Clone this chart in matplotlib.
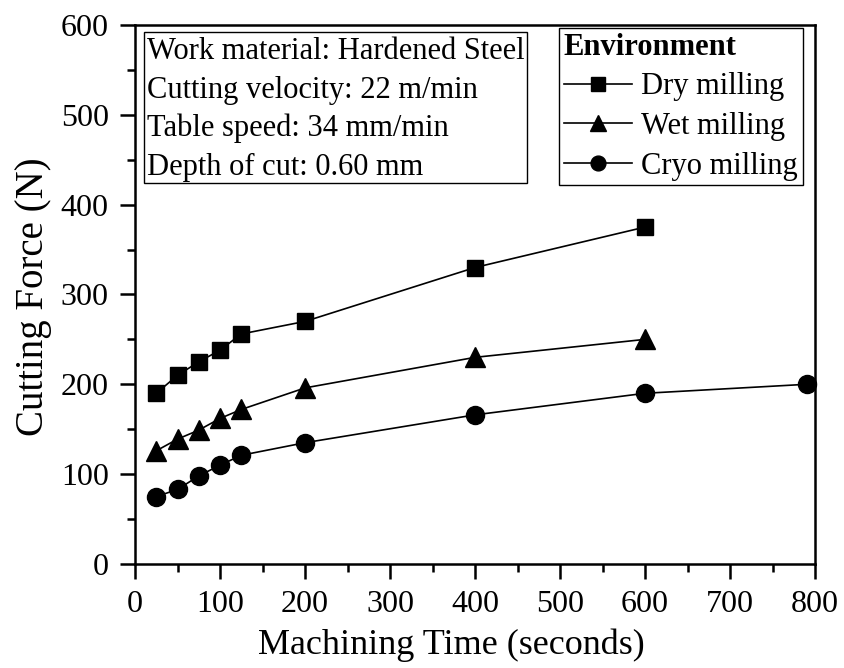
import matplotlib
matplotlib.use("Agg")
import matplotlib.pyplot as plt
from matplotlib.patches import Rectangle
import numpy as np

# machining time (s) and cutting force (N) for each cooling environment
time_dry = [25, 50, 75, 100, 125, 200, 400, 600]
force_dry = [190, 210, 225, 238, 256, 270, 330, 375]

time_wet = [25, 50, 75, 100, 125, 200, 400, 600]
force_wet = [126, 139, 149, 162, 172, 196, 230, 250]

time_cryo = [25, 50, 75, 100, 125, 200, 400, 600, 790]
force_cryo = [75, 83, 98, 110, 121, 135, 166, 190, 200]

labels = ["Dry milling", "Wet milling", "Cryo milling"]
markers = ["s", "^", "o"]
marker_sizes = [12, 14, 13]

info_lines = [
    "Work material: Hardened Steel",
    "Cutting velocity: 22 m/min",
    "Table speed: 34 mm/min",
    "Depth of cut: 0.60 mm",
]

plt.rcParams["font.family"] = ["Liberation Serif", "DejaVu Serif"]

fig = plt.figure(figsize=(8.44, 6.68), dpi=100)
ax = fig.add_axes([0.160, 0.1557, 0.8057, 0.807])

series = [(time_dry, force_dry), (time_wet, force_wet), (time_cryo, force_cryo)]
for (t, f), lab, mk, ms in zip(series, labels, markers, marker_sizes):
    ax.plot(t, f, color="black", lw=1.2, marker=mk, ms=ms,
            mfc="black", mec="black", label=lab, clip_on=False, zorder=3)

ax.set_xlim(0, 800)
ax.set_ylim(0, 600)
ax.set_xticks(np.arange(0, 801, 100))
ax.set_yticks(np.arange(0, 601, 100))
ax.set_xticks(np.arange(50, 800, 100), minor=True)
ax.set_yticks(np.arange(50, 600, 100), minor=True)

for s in ax.spines.values():
    s.set_linewidth(1.8)
ax.tick_params(which="major", direction="out", length=11, width=1.8,
               labelsize=23, top=False, right=False, pad=8)
ax.tick_params(which="minor", direction="out", length=5.5, width=1.8,
               top=False, right=False)

ax.set_xlabel("Machining Time (seconds)", fontsize=26)
ax.xaxis.set_label_coords(0.4655, -0.12)
ax.set_ylabel("Cutting Force (N)", fontsize=28)
ax.yaxis.set_label_coords(-0.122, 0.495)

# experimental conditions box, drawn as a frame plus one text per line
ax.add_patch(Rectangle((0.0132, 0.7074), 0.5632, 0.2801, transform=ax.transAxes,
                       fc="white", ec="black", lw=1.0, zorder=4))
for i, line in enumerate(info_lines):
    ax.text(0.0172, 0.9364 - i * 0.0716, line, transform=ax.transAxes,
            ha="left", va="baseline", fontsize=22, zorder=5)

leg = ax.legend(loc="upper right", bbox_to_anchor=(0.982, 0.9944), borderaxespad=0,
                title="Environment", title_fontproperties={"weight": "bold", "size": 22},
                alignment="left", fontsize=22, frameon=True, fancybox=False,
                edgecolor="black", framealpha=1, handlelength=2.25,
                handletextpad=0.3, labelspacing=0.35, borderpad=0.15,
                markerscale=0.82)
leg.get_frame().set_linewidth(1.0)

fig.savefig("out.png", dpi=100)
